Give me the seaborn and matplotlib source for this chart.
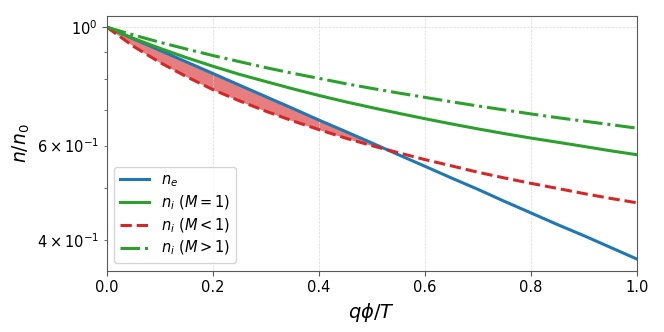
import numpy as np
import pandas as pd
import matplotlib
matplotlib.use("Agg")
import matplotlib.pyplot as plt
import seaborn as sns

# Data
x = [0.00, 0.05, 0.10, 0.15, 0.20, 0.25, 0.30, 0.35, 0.40, 0.45, 0.50,
     0.55, 0.60, 0.65, 0.70, 0.75, 0.80, 0.85, 0.90, 0.95, 1.00]
n_e = [1.000, 0.951, 0.905, 0.861, 0.819, 0.779, 0.741, 0.705, 0.670, 0.638, 0.607,
       0.577, 0.549, 0.522, 0.497, 0.472, 0.449, 0.427, 0.407, 0.387, 0.368]
n_i_M1 = [1.000, 0.953, 0.913, 0.877, 0.845, 0.816, 0.791, 0.767, 0.745, 0.725, 0.707,
          0.690, 0.674, 0.659, 0.645, 0.632, 0.620, 0.609, 0.598, 0.587, 0.577]
n_i_Mlt1 = [1.000, 0.921, 0.859, 0.808, 0.764, 0.728, 0.696, 0.668, 0.643, 0.620, 0.600,
            0.582, 0.565, 0.550, 0.535, 0.522, 0.510, 0.499, 0.488, 0.478, 0.469]
n_i_Mgt1 = [1.000, 0.967, 0.937, 0.910, 0.885, 0.862, 0.840, 0.820, 0.802, 0.784, 0.768,
            0.753, 0.739, 0.725, 0.712, 0.700, 0.688, 0.677, 0.667, 0.657, 0.647]
labels = [r"$n_e$", r"$n_i\ (M=1)$", r"$n_i\ (M<1)$", r"$n_i\ (M>1)$"]

fig = plt.figure(figsize=(6.64, 3.32), dpi=100)
ax = fig.add_axes([0.161, 0.185, 0.798, 0.768])

lw = 2.2
sns.lineplot(x=x, y=n_e, ax=ax, color="tab:blue", lw=lw, label=labels[0])
sns.lineplot(x=x, y=n_i_M1, ax=ax, color="tab:green", lw=lw, label=labels[1])
sns.lineplot(x=x, y=n_i_Mlt1, ax=ax, color="tab:red", lw=lw, linestyle="--", label=labels[2])
sns.lineplot(x=x, y=n_i_Mgt1, ax=ax, color="tab:green", lw=lw, linestyle="-.", label=labels[3])

xe = np.array(x); ye = np.array(n_e); yi = np.array(n_i_Mlt1)
ax.fill_between(xe, ye, yi, where=ye >= yi, interpolate=True,
                color="tab:red", alpha=0.6, lw=0, zorder=1)

ax.set_yscale("log")
ax.set_xlim(0, 1)
ax.grid(True, which="major", linestyle="--", color="0.85", lw=0.5)
for s in ax.spines.values():
    s.set_color("0.35")
ax.tick_params(which="both", labelsize=10.5, colors="0.35", labelcolor="black")
ax.set_xlabel(r"$q\phi/T$", fontsize=14)
ax.set_ylabel(r"$n/n_0$", fontsize=13.5)
ax.legend(loc="lower left", fontsize=10.5, labelspacing=0.3, handlelength=2.0,
          framealpha=0.8)

fig.savefig("out.png", dpi=100)
